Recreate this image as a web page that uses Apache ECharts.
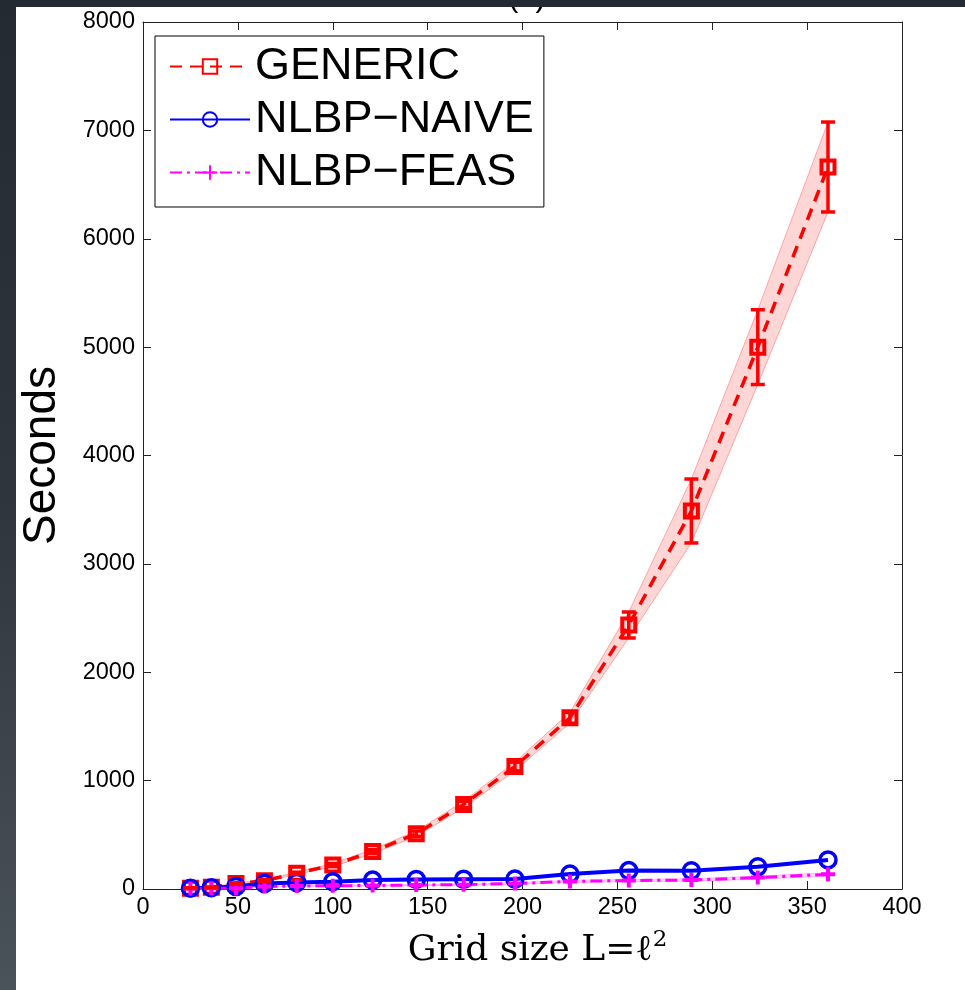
<!DOCTYPE html>
<html>
<head>
    <meta charset="utf-8">
    <title>Grid size vs Seconds</title>
    <script src="https://cdn.jsdelivr.net/npm/echarts@6/dist/echarts.min.js"></script>
    <style>
        html, body { margin: 0; padding: 0; background: #fff; }
        #chart { width: 965px; height: 990px; }
    </style>
</head>
<body>
    <div id="chart"></div>
    <script>
        // data
        const gridSize = [25, 36, 49, 64, 81, 100, 121, 144, 169, 196, 225, 256, 289, 324, 361];
        const genericMean = [8, 15, 50, 77, 145, 221, 345, 510, 780, 1130, 1580, 2436, 3488, 5000, 6662];
        const genericStd = [3, 4, 6, 8, 10, 15, 20, 25, 30, 40, 50, 120, 295, 345, 415];
        const naiveMean = [8, 12, 23, 50, 60, 68, 82, 88, 90, 92, 138, 170, 168, 205, 268];
        const feasMean = [5, 6, 8, 22, 28, 30, 32, 37, 40, 50, 70, 78, 83, 105, 135];
        const feasStd = [2, 2, 2, 4, 5, 5, 6, 6, 6, 8, 10, 10, 12, 14, 16];
        const seriesNames = ['GENERIC', 'NLBP\u2212NAIVE', 'NLBP\u2212FEAS'];

        const pairs = (ys) => gridSize.map((x, i) => [x, ys[i]]);
        const tickFont = { fontFamily: 'Liberation Sans', fontSize: 23.5, color: '#000', formatter: v => String(v) };
        const boxLine = { onZero: false, lineStyle: { color: '#222', width: 1 } };
        const boxTick = { show: true, inside: true, length: 8, lineStyle: { color: '#222' } };

        // shaded mean +/- std band, drawn once as one polygon through the axes
        function bandSeries(mean, std, fill, edge) {
            return {
                type: 'custom', silent: true, z: 1,
                data: gridSize.map((x, i) => [x, mean[i] - std[i], mean[i] + std[i]]),
                encode: { x: 0, y: [1, 2] },
                renderItem: function (params, api) {
                    if (params.dataIndex !== 0) return null;
                    const up = gridSize.map((x, i) => api.coord([x, mean[i] + std[i]]));
                    const lo = gridSize.map((x, i) => api.coord([x, mean[i] - std[i]])).reverse();
                    return {
                        type: 'polygon',
                        shape: { points: up.concat(lo) },
                        style: { fill: fill, stroke: edge, lineWidth: 1 }
                    };
                }
            };
        }

        let chart = echarts.init(document.getElementById('chart'));
        chart.setOption({
            backgroundColor: '#fff',
            animation: false,
            title: {
                text: '(a)',
                left: 503, top: -23,
                textStyle: { fontFamily: 'Liberation Sans', fontSize: 31, fontWeight: 'normal', color: '#000' }
            },
            graphic: [
                {   // slide frame: dark top strip and shaded left strip
                    type: 'rect', z: 100, left: 0, top: 0,
                    shape: { width: 965, height: 7 },
                    style: { fill: '#252b33' }
                },
                {
                    type: 'rect', z: 100, left: 0, top: 0,
                    shape: { width: 16, height: 990 },
                    style: {
                        fill: new echarts.graphic.LinearGradient(0, 0, 0, 1, [
                            { offset: 0, color: '#242a32' },
                            { offset: 0.5, color: '#2e353d' },
                            { offset: 1, color: '#4b535a' }
                        ])
                    }
                }
            ],
            grid: { left: 143, top: 22, right: 63, bottom: 101, containLabel: false },
            legend: {
                data: seriesNames,
                orient: 'vertical',
                left: 155, top: 36,
                padding: [8, 10, 12, 14],
                itemWidth: 80, itemHeight: 18, itemGap: 8,
                borderColor: '#000', borderWidth: 1,
                backgroundColor: '#fff',
                selectedMode: false,
                textStyle: { fontFamily: 'Liberation Sans', fontSize: 45, lineHeight: 45, color: '#000' }
            },
            xAxis: [
                {
                    type: 'value', min: 0, max: 400, interval: 50,
                    name: '{m|Grid size L=\u2113}{s|2}',
                    nameLocation: 'middle', nameGap: 40,
                    nameTextStyle: {
                        padding: [0, 0, 0, 30],
                        rich: {
                            m: { fontFamily: 'DejaVu Serif', fontSize: 36, lineHeight: 44, color: '#000' },
                            s: { fontFamily: 'DejaVu Serif', fontSize: 23, lineHeight: 44, verticalAlign: 'top', color: '#000' }
                        }
                    },
                    axisLine: boxLine,
                    axisTick: boxTick,
                    axisLabel: Object.assign({ margin: 7 }, tickFont),
                    splitLine: { show: false }
                },
                {
                    type: 'value', min: 0, max: 400, interval: 50, position: 'top',
                    axisLine: boxLine,
                    axisTick: boxTick,
                    axisLabel: { show: false },
                    splitLine: { show: false }
                }
            ],
            yAxis: [
                {
                    type: 'value', min: 0, max: 8000, interval: 1000,
                    name: 'Seconds',
                    nameLocation: 'middle', nameGap: 78,
                    nameTextStyle: { fontFamily: 'Liberation Sans', fontSize: 46, color: '#000' },
                    axisLine: Object.assign({ show: true }, boxLine),
                    axisTick: boxTick,
                    axisLabel: Object.assign({ margin: 8 }, tickFont),
                    splitLine: { show: false }
                },
                {
                    type: 'value', min: 0, max: 8000, interval: 1000, position: 'right',
                    axisLine: Object.assign({ show: true }, boxLine),
                    axisTick: boxTick,
                    axisLabel: { show: false },
                    splitLine: { show: false }
                }
            ],
            series: [
                bandSeries(genericMean, genericStd, 'rgba(255,0,0,0.16)', 'rgba(255,0,0,0.3)'),
                bandSeries(feasMean, feasStd, 'rgba(255,0,255,0.16)', 'rgba(255,0,255,0.25)'),
                {
                    name: seriesNames[0], type: 'line', z: 2,
                    data: pairs(genericMean),
                    symbol: 'rect', symbolSize: 13,
                    lineStyle: { color: '#ff0000', width: 3.5, type: [12, 8] },
                    itemStyle: { color: 'rgba(255,255,255,0)', borderColor: '#ff0000', borderWidth: 4 }
                },
                {
                    name: seriesNames[1], type: 'line', z: 2,
                    data: pairs(naiveMean),
                    symbol: 'circle', symbolSize: 16,
                    lineStyle: { color: '#0000ff', width: 4 },
                    itemStyle: { color: 'rgba(255,255,255,0)', borderColor: '#0000ff', borderWidth: 3.5 }
                },
                {
                    name: seriesNames[2], type: 'line', z: 2,
                    data: pairs(feasMean),
                    symbol: 'path://M0,5L10,5M5,0L5,10', symbolSize: 14, symbolKeepAspect: true,
                    lineStyle: { color: '#ff00ff', width: 3, type: [12, 5, 3, 5] },
                    itemStyle: { color: '#ff00ff', borderColor: '#ff00ff', borderWidth: 4 }
                },
                {
                    // error bars on GENERIC
                    name: 'genErr', type: 'custom', silent: true, z: 5,
                    data: gridSize.map((x, i) => [x, genericMean[i] - genericStd[i], genericMean[i] + genericStd[i]]),
                    encode: { x: 0, y: [1, 2] },
                    renderItem: function (params, api) {
                        const top = api.coord([api.value(0), api.value(2)]);
                        const bot = api.coord([api.value(0), api.value(1)]);
                        const hw = 7;
                        const st = { stroke: '#ff0000', lineWidth: 3.5 };
                        return {
                            type: 'group',
                            children: [
                                { type: 'line', shape: { x1: top[0], y1: top[1], x2: bot[0], y2: bot[1] }, style: st },
                                { type: 'line', shape: { x1: top[0] - hw, y1: top[1], x2: top[0] + hw, y2: top[1] }, style: st },
                                { type: 'line', shape: { x1: bot[0] - hw, y1: bot[1], x2: bot[0] + hw, y2: bot[1] }, style: st }
                            ]
                        };
                    }
                }
            ]
        });
    </script>
</body>
</html>
